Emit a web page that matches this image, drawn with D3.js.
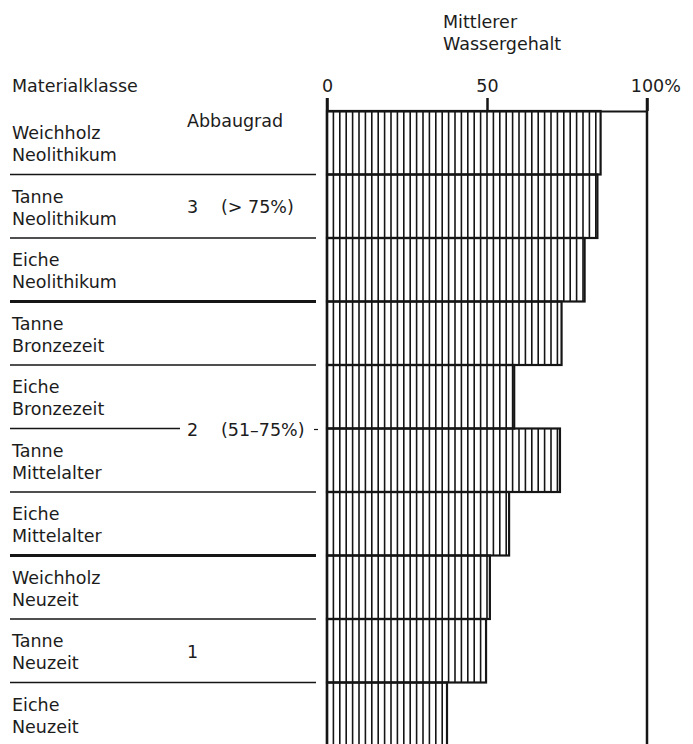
<!DOCTYPE html>
<html>
<head>
<meta charset="utf-8">
<script src="https://cdn.jsdelivr.net/npm/d3@7/dist/d3.min.js"></script>
<style>
  html, body { margin: 0; padding: 0; background: #fff; }
  svg { display: block; }
  text { font-family: "DejaVu Sans", "Liberation Sans", Arial, sans-serif; fill: #1c1c1c; }
</style>
</head>
<body>
<svg id="chart" width="693" height="744"></svg>
<script>
// ---- data ----
const materials = ["Weichholz", "Tanne", "Eiche", "Tanne", "Eiche", "Tanne", "Eiche", "Weichholz", "Tanne", "Eiche"];
const periods = ["Neolithikum", "Neolithikum", "Neolithikum", "Bronzezeit", "Bronzezeit", "Mittelalter", "Mittelalter", "Neuzeit", "Neuzeit", "Neuzeit"];
const values = [85.5, 84.5, 80.5, 73.3, 58.5, 72.8, 56.9, 50.9, 49.7, 37.5];
const tickValues = [0, 50, 100];
const tickLabels = ["0", "50", "100"];
const gradeNames = ["3", "2", "1"];
const gradeRanges = ["(> 75%)", "(51–75%)", ""];
const gradeFirst = [0, 3, 7];
const gradeLast = [2, 6, 9];
const axisTitle = ["Mittlerer", "Wassergehalt"];
const colTitle = "Materialklasse";
const gradeTitle = "Abbaugrad";

// ---- layout ----
const svg = d3.select("#chart");
const ink = "#151515";
const ff = "'DejaVu Sans', 'Liberation Sans', Arial, sans-serif";
const x = d3.scaleLinear().domain([0, 100]).range([327, 647]);
const y = d3.scaleBand().domain(d3.range(values.length)).range([111, 746]).paddingInner(0);
const fs = 17.5;

// axis title
const at = svg.append("text").attr("x", 443).attr("y", 28).style("font-size", fs + "px");
axisTitle.forEach((t, i) => at.append("tspan").attr("x", 443).attr("dy", i === 0 ? 0 : 22).text(t));

// column titles
svg.append("text").attr("x", 12).attr("y", 92).style("font-size", fs + "px").text(colTitle);
svg.append("text").attr("x", 187).attr("y", 127).style("font-size", fs + "px").text(gradeTitle);

// bars with vertical hatching
const bars = svg.append("g");
values.forEach((v, i) => {
  const g = bars.append("g");
  d3.range(2, v, 2).forEach(p => {
    g.append("line")
      .attr("x1", x(p)).attr("x2", x(p))
      .attr("y1", y(i)).attr("y2", y(i) + y.bandwidth())
      .attr("stroke", ink).attr("stroke-width", 1.6);
  });
  g.append("rect")
    .attr("x", x(0)).attr("y", y(i))
    .attr("width", x(v) - x(0)).attr("height", y.bandwidth())
    .attr("fill", "none").attr("stroke", ink).attr("stroke-width", 2.2);
});

// axis on top
const axis = d3.axisTop(x).tickValues(tickValues).tickSize(13).tickSizeOuter(0).tickPadding(6)
  .tickFormat((d, i) => tickLabels[i]);
const ag = svg.append("g").attr("transform", `translate(0,${y(0)})`).call(axis);
ag.select(".domain").attr("stroke", ink).attr("stroke-width", 2.2);
ag.selectAll(".tick line").attr("stroke", ink).attr("stroke-width", 2.5);
ag.selectAll(".tick text").style("font-size", fs + "px").style("font-family", ff).attr("fill", "#1c1c1c");
ag.selectAll(".tick text").filter((d, i) => i === tickValues.length - 1).each(function () {
  const w = this.getComputedTextLength();
  d3.select(this).attr("text-anchor", "start").attr("x", -w / 2).append("tspan").text("%");
});

// full-height vertical lines at 0 and 100
[0, 100].forEach(v => {
  svg.append("line").attr("x1", x(v)).attr("x2", x(v))
    .attr("y1", y(0) - 13).attr("y2", 744)
    .attr("stroke", ink).attr("stroke-width", 2.5);
});

// row labels
const labels = svg.append("g");
values.forEach((v, i) => {
  const t = labels.append("text").style("font-size", fs + "px");
  t.append("tspan").attr("x", 12).attr("y", y(i) + 28).text(materials[i]);
  t.append("tspan").attr("x", 12).attr("y", y(i) + 50).text(periods[i]);
});

// separators
const isGroupEnd = i => gradeLast.includes(i);
const grade2Split = 4; // row after which the grade-2 label sits
for (let i = 0; i < values.length - 1; i++) {
  const yy = y(i) + y.bandwidth();
  const thick = isGroupEnd(i);
  const x2 = i === grade2Split ? 180 : 316;
  svg.append("line").attr("x1", 10).attr("x2", x2).attr("y1", yy).attr("y2", yy)
    .attr("stroke", ink).attr("stroke-width", thick ? 3 : 1.5);
}

// grade labels
gradeNames.forEach((g, k) => {
  const yc = (y(gradeFirst[k]) + y(gradeLast[k]) + y.bandwidth()) / 2;
  svg.append("text").attr("x", 187).attr("y", yc + 7).style("font-size", fs + "px").text(g);
  if (gradeRanges[k]) {
    svg.append("text").attr("x", 221).attr("y", yc + 7).style("font-size", fs + "px").text(gradeRanges[k]);
  }
});
// small leader mark after grade 2 range
const yc2 = (y(gradeFirst[1]) + y(gradeLast[1]) + y.bandwidth()) / 2;
svg.append("line").attr("x1", 314).attr("x2", 318).attr("y1", yc2 + 1).attr("y2", yc2 + 1)
  .attr("stroke", ink).attr("stroke-width", 1.2);
</script>
</body>
</html>
